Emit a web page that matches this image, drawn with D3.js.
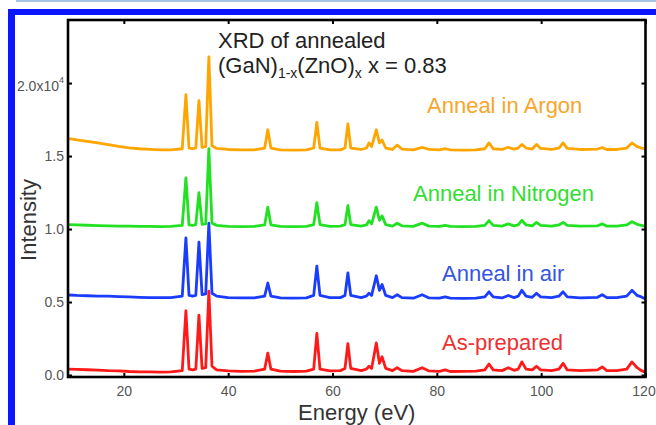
<!DOCTYPE html>
<html>
<head>
<meta charset="utf-8">
<script src="https://cdn.jsdelivr.net/npm/d3@7"></script>
<style>
  html, body { margin: 0; padding: 0; background: #fff; }
  svg { display: block; }
  text { font-family: Arial, "Liberation Sans", sans-serif; }
</style>
</head>
<body>
<svg id="chart" width="656" height="425"></svg>
<script>
// Diffraction angle grid shared by all four patterns
const energy = [
  9.5, 11, 13, 15, 17, 19, 21, 23, 25, 27, 29,
  31.2, 31.9, 32.5, 33.2, 33.8, 34.4, 35.0, 35.7, 36.3, 36.9, 37.8,
  40, 42.5, 45, 47.0, 47.6, 48.2, 50, 52.5, 55,
  56.4, 57.0, 57.6, 59.5, 61.5, 62.4, 62.95, 63.5, 65.5,
  66.5, 67.0, 67.5, 68.4, 69.0, 69.5, 70.2, 71.5, 72.4, 73.3,
  75.5, 77.2, 78.5, 80.5, 81.6, 82.6, 85, 87.5,
  89.2, 90.0, 90.8, 92.5, 93.7, 94.8, 95.6, 96.3, 97.1, 98.3, 99.1, 99.9,
  102, 103.4, 104.2, 105.0, 107.5, 110.8, 111.7, 112.6, 114.5,
  116.4, 117.4, 118.4, 119.2, 120
];

// Intensities (x10^4 counts, stacked offsets included)
const asPrepared = [
  0.040, 0.038, 0.036, 0.034, 0.030, 0.028, 0.024, 0.022, 0.022, 0.020, 0.022,
  0.030, 0.440, 0.040, 0.035, 0.040, 0.410, 0.045, 0.050, 0.575, 0.060, 0.035,
  0.028, 0.025, 0.026, 0.040, 0.150, 0.040, 0.026, 0.024, 0.026,
  0.040, 0.285, 0.040, 0.028, 0.030, 0.045, 0.215, 0.045, 0.030,
  0.040, 0.060, 0.045, 0.220, 0.080, 0.125, 0.045, 0.030, 0.050, 0.030,
  0.025, 0.050, 0.028, 0.025, 0.035, 0.024, 0.025, 0.026,
  0.035, 0.075, 0.035, 0.030, 0.050, 0.032, 0.040, 0.090, 0.040, 0.035, 0.060, 0.035,
  0.030, 0.040, 0.080, 0.035, 0.030, 0.035, 0.055, 0.030, 0.030,
  0.040, 0.090, 0.050, 0.030, 0.020
];

const annealAir = [
  0.548, 0.545, 0.543, 0.540, 0.540, 0.537, 0.535, 0.532, 0.530, 0.530, 0.530,
  0.540, 0.940, 0.545, 0.540, 0.545, 0.910, 0.550, 0.555, 1.040, 0.560, 0.540,
  0.530, 0.528, 0.528, 0.540, 0.630, 0.540, 0.528, 0.526, 0.528,
  0.545, 0.745, 0.545, 0.530, 0.530, 0.545, 0.700, 0.545, 0.530,
  0.540, 0.560, 0.545, 0.680, 0.580, 0.620, 0.545, 0.530, 0.550, 0.530,
  0.526, 0.550, 0.528, 0.526, 0.535, 0.526, 0.525, 0.526,
  0.535, 0.570, 0.535, 0.528, 0.545, 0.530, 0.540, 0.580, 0.540, 0.532, 0.560, 0.535,
  0.530, 0.540, 0.570, 0.535, 0.528, 0.532, 0.550, 0.530, 0.530,
  0.540, 0.580, 0.545, 0.535, 0.520
];

const annealNitrogen = [
  1.030, 1.028, 1.026, 1.024, 1.022, 1.020, 1.020, 1.018, 1.018, 1.016, 1.018,
  1.025, 1.350, 1.028, 1.025, 1.030, 1.250, 1.032, 1.035, 1.550, 1.040, 1.025,
  1.018, 1.016, 1.018, 1.028, 1.150, 1.028, 1.018, 1.016, 1.018,
  1.030, 1.180, 1.030, 1.018, 1.020, 1.030, 1.160, 1.030, 1.020,
  1.028, 1.057, 1.035, 1.150, 1.060, 1.090, 1.030, 1.020, 1.040, 1.022,
  1.018, 1.040, 1.020, 1.018, 1.025, 1.018, 1.016, 1.018,
  1.025, 1.058, 1.025, 1.020, 1.035, 1.022, 1.028, 1.060, 1.028, 1.022, 1.045, 1.025,
  1.020, 1.028, 1.045, 1.025, 1.020, 1.022, 1.035, 1.020, 1.020,
  1.028, 1.050, 1.032, 1.025, 1.018
];

const annealArgon = [
  1.620, 1.610, 1.600, 1.590, 1.578, 1.566, 1.556, 1.550, 1.546, 1.542, 1.542,
  1.550, 1.920, 1.555, 1.550, 1.556, 1.880, 1.560, 1.565, 2.180, 1.570, 1.552,
  1.545, 1.542, 1.542, 1.555, 1.680, 1.555, 1.542, 1.540, 1.542,
  1.555, 1.730, 1.555, 1.542, 1.542, 1.555, 1.720, 1.555, 1.545,
  1.555, 1.590, 1.565, 1.680, 1.590, 1.610, 1.555, 1.545, 1.575, 1.548,
  1.542, 1.560, 1.545, 1.542, 1.550, 1.542, 1.540, 1.542,
  1.550, 1.590, 1.550, 1.545, 1.560, 1.548, 1.555, 1.580, 1.555, 1.548, 1.580, 1.552,
  1.545, 1.555, 1.590, 1.552, 1.545, 1.548, 1.558, 1.545, 1.545,
  1.555, 1.590, 1.565, 1.555, 1.548
];

const seriesNames = ["As-prepared", "Anneal in air", "Anneal in Nitrogen", "Anneal in Argon"];
const seriesValues = [asPrepared, annealAir, annealNitrogen, annealArgon];
const lineColors = ["#ff1a1a", "#1a3cff", "#22e022", "#ffa500"];
const labelColors = ["#ee3030", "#3455e0", "#33dd33", "#f7a629"];

const xTicks = [20, 40, 60, 80, 100, 120];
const yTicks = [0, 0.5, 1.0, 1.5, 2.0];
const yTickLabels = ["0.0", "0.5", "1.0", "1.5", "2.0x10"];

const titleLine1 = "XRD of annealed";
const xLabel = "Energy (eV)";
const yLabel = "Intensity";

const svg = d3.select("#chart");

// Page frame
svg.append("rect").attr("x", 16).attr("y", 0).attr("width", 640).attr("height", 2).attr("fill", "#a3c4e8");
svg.append("rect").attr("x", 8).attr("y", 9).attr("width", 648).attr("height", 6).attr("fill", "#0b16ff");
svg.append("rect").attr("x", 8).attr("y", 9).attr("width", 7).attr("height", 416).attr("fill", "#0b16ff");

const m = { left: 68, right: 645.5, top: 20, bottom: 377 };
const x = d3.scaleLinear().domain([9.3, 120]).range([m.left, m.right]);
const y = d3.scaleLinear().domain([-0.0137, 2.432]).range([m.bottom, m.top]);

// Patterns
const line = d3.line().x((d, i) => x(energy[i])).y(d => y(d));
const plot = svg.append("g");
seriesValues.forEach((vals, k) => {
  plot.append("path")
    .datum(vals)
    .attr("d", line)
    .attr("fill", "none")
    .attr("stroke", lineColors[k])
    .attr("stroke-width", 2.8)
    .attr("stroke-linejoin", "round");
});

// Axes with inward ticks on all four sides
const tickFont = g => g.selectAll("text").attr("font-size", 14).attr("fill", "#555").attr("font-family", "Arial, 'Liberation Sans', sans-serif");

svg.append("g").attr("transform", `translate(0,${m.bottom})`)
  .call(d3.axisBottom(x).tickValues(xTicks).tickSizeInner(-4).tickSizeOuter(0).tickPadding(9).tickFormat(d3.format("d")))
  .call(g => g.select(".domain").remove())
  .call(g => g.selectAll("line").attr("stroke", "#000").attr("stroke-width", 2))
  .call(tickFont)
  // keep the last label inside the page edge
  .call(g => g.selectAll(".tick text").filter(d => d === 120).attr("dx", -2));

svg.append("g").attr("transform", `translate(0,${m.top})`)
  .call(d3.axisTop(x).tickValues(xTicks).tickSizeInner(-4).tickSizeOuter(0).tickFormat(""))
  .call(g => g.select(".domain").remove())
  .call(g => g.selectAll("line").attr("stroke", "#000").attr("stroke-width", 2));

const yAxisG = svg.append("g").attr("transform", `translate(${m.left},0)`)
  .call(d3.axisLeft(y).tickValues(yTicks).tickSizeInner(-4).tickSizeOuter(0).tickPadding(4)
    .tickFormat((d, i) => yTickLabels[i]))
  .call(g => g.select(".domain").remove())
  .call(g => g.selectAll("line").attr("stroke", "#000").attr("stroke-width", 2))
  .call(tickFont);

// Exponent on the top tick label
yAxisG.selectAll(".tick text").filter(d => d === 2.0)
  .attr("dy", "0.55em")
  .append("tspan").attr("font-size", 9).attr("dy", "-0.9em").text("4");

svg.append("g").attr("transform", `translate(${m.right},0)`)
  .call(d3.axisRight(y).tickValues(yTicks).tickSizeInner(-4).tickSizeOuter(0).tickFormat(""))
  .call(g => g.select(".domain").remove())
  .call(g => g.selectAll("line").attr("stroke", "#000").attr("stroke-width", 2));

// Plot frame
svg.append("rect")
  .attr("x", m.left).attr("y", m.top)
  .attr("width", m.right - m.left).attr("height", m.bottom - m.top)
  .attr("fill", "none").attr("stroke", "#000").attr("stroke-width", 2.6);

// Axis titles
svg.append("text")
  .attr("x", (m.left + m.right) / 2).attr("y", 420)
  .attr("text-anchor", "middle").attr("font-size", 22).attr("fill", "#333")
  .text(xLabel);

svg.append("text")
  .attr("transform", "translate(36,220) rotate(-90)")
  .attr("text-anchor", "middle").attr("font-size", 22).attr("fill", "#333")
  .text(yLabel);

// Title
svg.append("text").attr("x", 218).attr("y", 48).attr("font-size", 22).attr("fill", "#222").text(titleLine1);
const t2 = svg.append("text").attr("x", 218).attr("y", 73).attr("font-size", 22).attr("fill", "#222");
t2.append("tspan").text("(GaN)");
t2.append("tspan").attr("font-size", 14).attr("dy", 5).text("1-x");
t2.append("tspan").attr("dy", -5).text("(ZnO)");
t2.append("tspan").attr("font-size", 14).attr("dy", 5).text("x");
t2.append("tspan").attr("dy", -5).text(" x = 0.83");

// Series labels
const labelPos = [[442, 350], [442, 281], [413, 201], [427, 113]];
seriesNames.forEach((name, k) => {
  svg.append("text")
    .attr("x", labelPos[k][0]).attr("y", labelPos[k][1])
    .attr("font-size", 22).attr("fill", labelColors[k])
    .text(name);
});
</script>
</body>
</html>
